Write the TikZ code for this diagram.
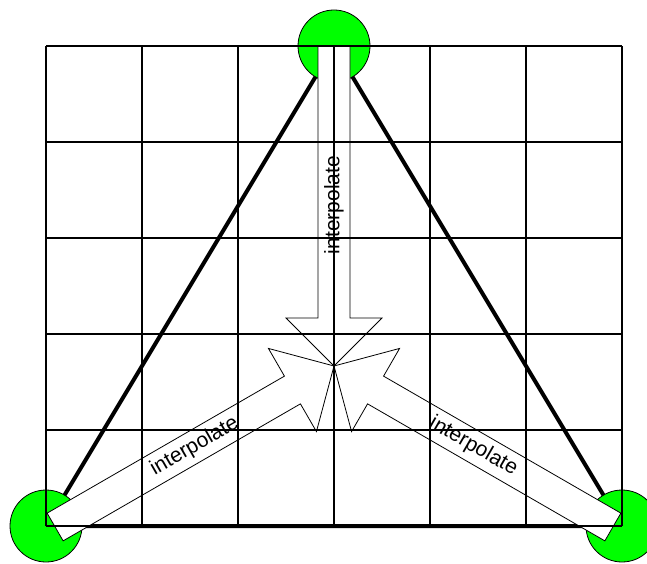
\documentclass[tikz,border=0pt]{standalone}
\usepackage{fontspec}
\setmainfont{Liberation Sans}
\begin{document}
\begin{tikzpicture}[x=1pt,y=1pt,
  gridline/.style={line width=1.5pt},
  tri/.style={line width=4pt},
  vert/.style={circle, draw=black, line width=0.8pt, fill=green, minimum size=72pt, inner sep=0pt},
  bigarrow/.style={draw=black, fill=white, line width=0.8pt},
  lab/.style={font=\fontsize{21}{24}\selectfont, inner sep=0pt}]
\useasboundingbox (0,0) rectangle (647,563);
\coordinate (T) at (334,517);
\coordinate (L) at (46,37);
\coordinate (R) at (622,37);
\coordinate (C) at (334,197);
% triangle
\draw[tri] (T) -- (L) -- (R) -- cycle;
% vertex discs
\node[vert] (vT) at (T) {};
\node[vert] (vL) at (L) {};
\node[vert] (vR) at (R) {};
% arrows pointing at the centre
\begin{scope}[shift={(C)}, rotate=-90]
  \draw[bigarrow] (0,0) -- (-48,48) -- (-48,16) -- (-320,16) -- (-320,-16) -- (-48,-16) -- (-48,-48) -- cycle;
\end{scope}
\begin{scope}[shift={(C)}, rotate=30]
  \draw[bigarrow] (0,0) -- (-48,48) -- (-48,16) -- (-322,16) -- (-322,-16) -- (-48,-16) -- (-48,-48) -- cycle;
\end{scope}
\begin{scope}[shift={(C)}, rotate=150]
  \draw[bigarrow] (0,0) -- (-48,48) -- (-48,16) -- (-322,16) -- (-322,-16) -- (-48,-16) -- (-48,-48) -- cycle;
\end{scope}
\node[lab, rotate=90] (tT) at (334,358) {interpolate};
\node[lab, rotate=30] (tL) at (194.6,116.5) {interpolate};
\node[lab, rotate=-30] (tR) at (473.4,116.5) {interpolate};
% grid on top
\foreach \i in {0,...,6} \draw[gridline] (46+96*\i,37) -- (46+96*\i,517);
\foreach \j in {0,...,5} \draw[gridline] (46,37+96*\j) -- (622,37+96*\j);
\end{tikzpicture}
\end{document}
